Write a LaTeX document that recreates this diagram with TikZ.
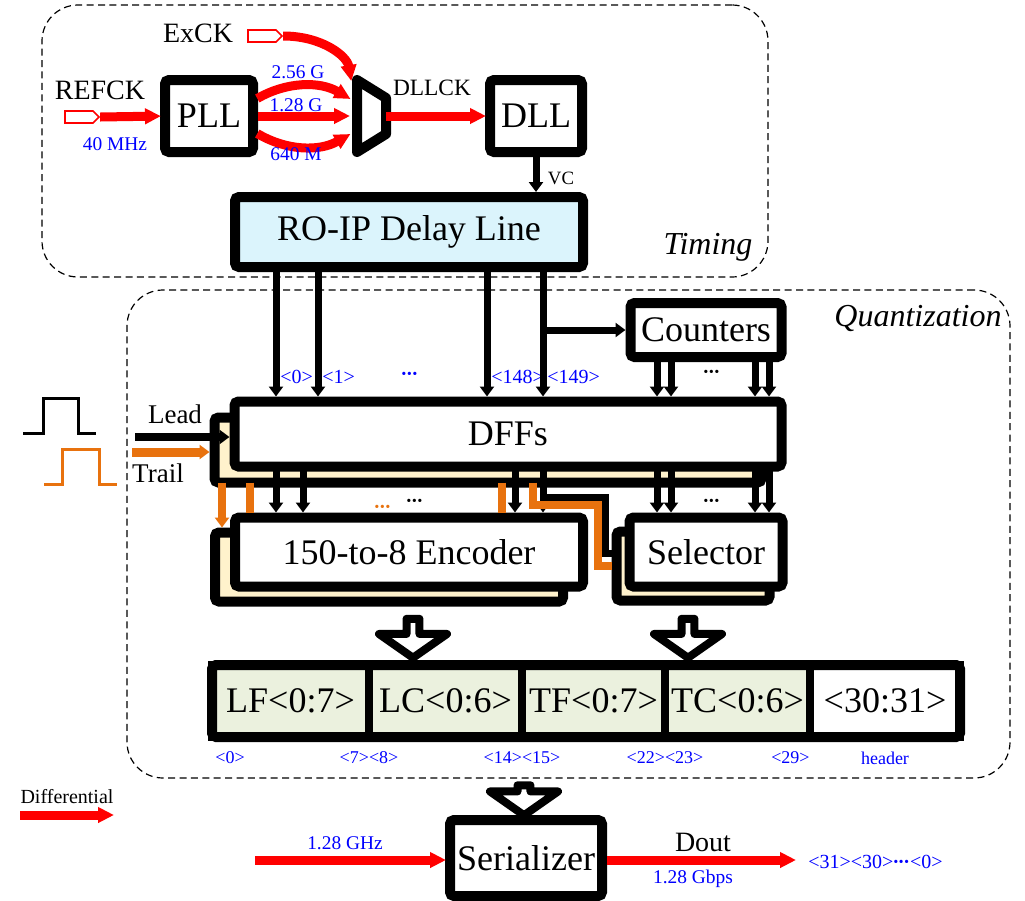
\documentclass[tikz,border=0pt]{standalone}
\usepackage{fontspec}
\setmainfont{Liberation Serif}
\usepackage{xcolor}
\usepackage{tikz}
\usetikzlibrary{positioning,arrows.meta,fit,backgrounds,shapes.arrows,shapes.symbols}
\definecolor{diffred}{RGB}{255,0,0}
\definecolor{trailcolor}{RGB}{232,114,14}
\definecolor{bitblue}{RGB}{0,0,255}
\definecolor{linefill}{RGB}{219,244,252}
\definecolor{wordfill}{RGB}{235,241,222}
\definecolor{stackfill}{RGB}{255,242,204}
\newcommand{\ddd}{\textbf{\kern-0.5pt·\kern-0.6pt·\kern-0.6pt·}}
\tikzset{
  blk/.style={draw, line width=5pt, rounded corners=2pt, fill=white, inner sep=0pt, outer sep=0pt, align=center, font=\fontsize{18}{20}\selectfont},
  stk/.style={blk, fill=stackfill},
  cell/.style={draw, line width=4pt, fill=wordfill, inner sep=0pt, outer sep=0pt, minimum height=36pt, font=\fontsize{18}{20}\selectfont},
  grp/.style={draw, dash pattern=on 3.5pt off 2.2pt, line width=0.6pt, rounded corners=18pt, inner sep=0pt},
  glbl/.style={font=\fontsize{16}{18}\selectfont\itshape, inner sep=0pt},
  pin/.style={signal, signal to=east, draw=diffred, fill=white, line width=0.8pt, minimum width=17pt, minimum height=6pt, inner sep=0pt},
  diff/.style={-{Triangle[length=8pt,width=7.5pt]}, line width=4.5pt, draw=diffred, shorten >=2pt},
  sig/.style={-{Triangle[length=5pt,width=7pt]}, line width=3.5pt, shorten >=2.5pt},
  trl/.style={line width=4pt, draw=trailcolor, shorten >=2.5pt},
  bus/.style={single arrow, draw, line width=4pt, line join=round, fill=white, rotate=-90, minimum height=19.5pt, minimum width=34pt, single arrow head extend=8.5pt, single arrow tip angle=110, inner sep=0pt},
  nm/.style={font=\fontsize{14}{16}\selectfont, inner sep=0pt},
  fq/.style={font=\fontsize{9.7}{11}\selectfont, text=bitblue, inner sep=0pt},
  bit/.style={font=\fontsize{10}{12}\selectfont, text=bitblue, inner sep=0pt},
  wbit/.style={font=\fontsize{9}{11}\selectfont, text=bitblue, inner sep=0pt},
  dts/.style={font=\fontsize{10}{12}\selectfont, inner sep=0pt},
}
\begin{document}
\begin{tikzpicture}[x=0.5pt, y=-0.5pt]
\path[use as bounding box] (0,0) rectangle (1025,901);
\node[grp, fit={(42,5) (768,277)}] (tim) {};
\node[grp, fit={(127,290) (1010,778)}] (qnt) {};
\node[glbl] (timlbl) at (708,247) {Timing};
\node[glbl] (qntlbl) at (918,318) {Quantization};

\node[blk, minimum width=44pt, minimum height=36pt] (pll) at (209,116) {PLL};
\node[blk, minimum width=46pt, minimum height=36pt] (dll) at (536,116) {DLL};
\node[blk, fill=linefill, minimum width=174pt, minimum height=35pt] (dly) at (409,232) {RO-IP Delay Line};
\node[blk, minimum width=75.5pt, minimum height=27pt] (cnt) at (706,330) {Counters};
\node[blk, minimum width=273.5pt, minimum height=32.5pt] (dff) at (508,434) {DFFs};
\node[blk, minimum width=174pt, minimum height=34.5pt] (enc) at (409,552) {150-to-8 Encoder};
\node[blk, minimum width=76.5pt, minimum height=34.5pt] (sel) at (cnt |- enc) {Selector};
\begin{scope}[on background layer]
\node[stk, minimum width=273.5pt, minimum height=32.5pt] (dffb) at ([shift={(-20,16)}]dff.center) {};
\node[stk, minimum width=174pt, minimum height=34.5pt] (encb) at ([shift={(-20,15)}]enc.center) {};
\node[stk, minimum width=76.5pt, minimum height=34.5pt] (selb) at ([shift={(-13,14)}]sel.center) {};
\end{scope}

\node[pin] (refpin) at (79,117) {};
\node[pin] (expin) at (262,36) {};
\node[nm] (reflbl) at (100,90) {REFCK};
\node[nm] (exlbl) at (198,33) {ExCK};
\node[fq] (reffq) at (115,144) {40 MHz};
\draw[diff] (refpin.east) -- (pll.west);

\coordinate (mxa) at (357,80);
\coordinate (mxb) at (386,98);
\coordinate (mxc) at (386,134);
\coordinate (mxd) at (357,152);
\coordinate (mxo) at (386,116);
\draw[line width=5pt, line join=round, fill=white] (mxa) -- (mxb) -- (mxc) -- (mxd) -- cycle;
\coordinate (mxi0) at (352,85);
\coordinate (mxi1) at (354,101);
\coordinate (mxi2) at (354,116);
\coordinate (mxi3) at (354,132);
\draw[diff] (expin.east) .. controls (322,36) and (347,56) .. (mxi0);
\draw[diff, shorten <=2.5pt] (pll.east |- 0,101) to[bend left=30] (mxi1);
\draw[diff, shorten <=2.5pt] (pll.east |- 0,116) -- (mxi2);
\draw[diff, shorten <=2.5pt] (pll.east |- 0,131) to[bend right=30] (mxi3);
\node[fq] (f256) at (298,72) {2.56 G};
\node[fq] (f128) at (296,105) {1.28 G};
\node[fq] (f640) at (296,154) {640 M};
\draw[diff] (mxo) -- (dll.west);
\node[font=\fontsize{11.7}{13}\selectfont, inner sep=0pt] (dllck) at (432,88) {DLLCK};
\draw[sig] (dll.south) -- (dll.south |- dly.north);
\node[font=\fontsize{9.4}{11}\selectfont, inner sep=0pt] (vc) at (561,178) {VC};

\foreach \x/\b in {276/{<0>},318/{<1>},487/{<148>},543/{<149>}} {
  \draw[sig] (\x,0 |- dly.south) -- (\x,0 |- dff.north);
  \node[bit, anchor=west] (b\x) at (\x+4,377) {\b};
}
\node[bit] (bdots) at (410,376) {\ddd};
\draw[sig] (543,0 |- cnt.west) -- (cnt.west);
\foreach \x in {657,671,755,769} {
  \draw[sig] (\x,0 |- cnt.south) -- (\x,0 |- dff.north);
  \draw[sig] (\x,0 |- dff.south) -- (\x,0 |- sel.north);
}
\foreach \x in {276,303,515,543}
  \draw[sig] (\x,0 |- dff.south) -- (\x,0 |- enc.north);
\node[dts] (cdots) at (712,374) {\ddd};
\node[dts] (sdots) at (712,503) {\ddd};
\node[dts] (edots) at (415,503) {\ddd};
\node[dts, text=trailcolor] (odots) at (383,509) {\ddd};

\coordinate (ld) at (135,437);
\coordinate (tr) at (132,452);
\draw[sig, line width=4pt] (ld) -- (ld -| dff.west);
\draw[sig, draw=trailcolor, line width=4.5pt] (tr) -- (tr -| dffb.west);
\node[nm, font=\fontsize{13.5}{15}\selectfont] (leadlbl) at (175,414) {Lead};
\node[nm, font=\fontsize{13.5}{15}\selectfont] (traillbl) at (158,473) {Trail};
\draw[line width=1.5pt] (23,433) -- (43,433) -- (43,398) -- (78,398) -- (78,433) -- (96,433);
\draw[line width=1.5pt, trailcolor] (44,484) -- (62,484) -- (62,449) -- (99,449) -- (99,484) -- (117,484);

\draw[trl, -{Triangle[length=5pt,width=7pt]}] (222,0 |- dffb.south) -- (222,0 |- encb.north);
\draw[trl] (250,0 |- dffb.south) -- (250,0 |- enc.north);
\draw[trl] (502,0 |- dffb.south) -- (502,0 |- enc.north);
\draw[trl] (533,0 |- dffb.south) |- (598,505) |- (selb.west);
\draw[line width=3.5pt, shorten >=2.5pt] (543,497) -| (605,553) -- (selb.west |- 0,553);

\node[cell, minimum width=78.5pt] (lf) at (290.5,701) {LF<0:7>};
\node[cell, minimum width=76.5pt, right=0pt of lf] (lc) {LC<0:6>};
\node[cell, minimum width=71.5pt, right=0pt of lc] (tf) {TF<0:7>};
\node[cell, minimum width=72.5pt, right=0pt of tf] (tc) {TC<0:6>};
\node[cell, minimum width=75pt, fill=white, right=0pt of tc] (hdr) {<30:31>};
\node[draw, line width=5pt, rounded corners=2pt, inner sep=0pt, fit=(lf)(hdr)] (word) {};
\node[wbit, anchor=west] (w0) at ([shift={(3,21)}]lf.south west) {<0>};
\node[wbit] (w7) at ([yshift=-10.5pt]lf.south east) {<7><8>};
\node[wbit] (w14) at ([yshift=-10.5pt]lc.south east) {<14><15>};
\node[wbit] (w22) at ([yshift=-10.5pt]tf.south east) {<22><23>};
\node[wbit, anchor=east] (w29) at ([yshift=-10.5pt]tc.south east) {<29>};
\node[wbit] (whd) at ([yshift=-10.5pt]hdr.south) {header};
\node[bus] (encbus) at (413,636) {};
\node[bus] (selbus) at (688,636) {};
\node[bus, minimum height=15pt] (serbus) at (524,798) {};

\node[blk, minimum width=76pt, minimum height=38pt] (ser) at (526,858) {Serializer};
\coordinate (ckin) at (255,860);
\coordinate (dout) at (800,860);
\draw[diff] (ckin) -- (ckin -| ser.west);
\draw[diff, shorten <=2.5pt] (ser.east |- dout) -- (dout);
\node[fq] (ckfq) at (345,843) {1.28 GHz};
\node[nm] (doutlbl) at (703,842) {Dout};
\node[fq] (rate) at (693,879) {1.28 Gbps};
\node[bit, anchor=west] (seq) at (808,862) {<31><30>\ddd<0>};

\node[dts] (leglbl) at (67,797) {Differential};
\coordinate (lga) at (20,815);
\coordinate (lgb) at (118,815);
\draw[diff] (lga) -- (lgb);
\end{tikzpicture}
\end{document}
